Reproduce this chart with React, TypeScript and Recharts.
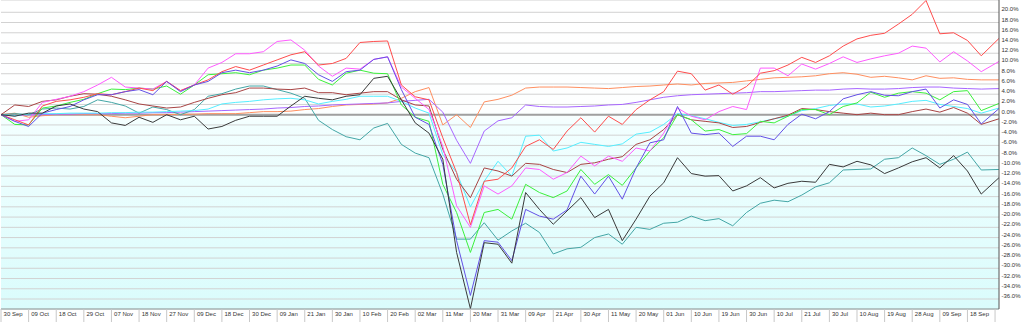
import React from 'react';
import { LineChart, Line, XAxis, YAxis, CartesianGrid, ReferenceLine } from 'recharts';

// x labels, one every 7 trading days
const DATE_LABELS = [
  '30 Sep', '09 Oct', '18 Oct', '29 Oct', '07 Nov', '18 Nov', '27 Nov', '09 Dec', '18 Dec',
  '30 Dec', '09 Jan', '21 Jan', '30 Jan', '10 Feb', '20 Feb', '02 Mar', '11 Mar', '20 Mar',
  '31 Mar', '09 Apr', '21 Apr', '30 Apr', '11 May', '20 May', '01 Jun', '10 Jun', '19 Jun',
  '30 Jun', '10 Jul', '21 Jul', '30 Jul', '10 Aug', '19 Aug', '28 Aug', '09 Sep', '18 Sep',
];
const DAYS_PER_LABEL = 7;
const LAST_DAY = 253;

// sample points every 3.5 trading days, last one at the series end
const SAMPLE_COUNT = 73;

const RED = [
  0, -1.0, -2.0, 1.7, 2.6, 2.9, 3.4, 4.1, 3.9, 4.5,
  5.2, 4.7, 6.5, 4.7, 5.8, 6.8, 8.4, 9.4, 8.7, 9.7,
  10.7, 11.7, 12.3, 9.7, 10.0, 11.0, 14.1, 14.3, 14.4, 5.8,
  3.5, 2.9, -4.5, -11.3, -21.5, -13.0, -12.6, -10.4, -6.2, -4.9,
  -6.8, -3.2, -0.6, -3.4, -0.3, -1.9, 1.0, 2.9, 4.5, 8.5,
  8.0, 4.8, 5.8, 4.0, 5.5, 8.1, 8.6, 9.7, 11.2, 10.2,
  11.5, 13.4, 14.8, 15.5, 15.9, 17.7, 19.6, 22.3, 15.8, 16.0,
  14.5, 11.5, 14.9,
];
const MAGENTA = [
  0, -1.3, -1.0, 2.4, 3.0, 3.6, 4.5, 5.8, 7.3, 5.4,
  5.2, 5.0, 6.5, 4.7, 5.8, 9.1, 10.2, 11.9, 11.9, 12.3,
  14.3, 14.6, 12.6, 9.5, 7.5, 9.1, 8.9, 10.8, 11.3, 5.4,
  3.2, 1.0, -6.2, -17.8, -22.0, -13.9, -15.5, -13.9, -10.4, -10.7,
  -12.6, -11.3, -8.1, -10.0, -8.1, -9.1, -6.5, -7.1, -3.6, 1.3,
  -0.3, -1.0, 0.6, 1.6, 1.0, 9.1, 9.1, 7.6, 9.9, 8.9,
  10.0, 11.3, 10.2, 10.9, 11.5, 12.0, 13.4, 13.0, 10.3, 12.3,
  10.5, 8.4, 10.4,
];
const ORANGE = [
  0, 0.3, -0.5, -0.2, 0, 0, 0, 0, -0.3, -0.6,
  -0.3, 0, 0, 0.1, 0.1, 0.2, 0.2, 0.2, 0.4, 0.6,
  0.6, 0.7, 1.0, 1.2, 1.6, 1.9, 2.0, 2.1, 2.3, 3.2,
  4.5, 5.3, -2.0, 0.0, -2.5, 2.5, 3.0, 3.8, 5.2, 5.4,
  5.4, 5.4, 5.3, 5.2, 5.1, 5.3, 5.5, 5.6, 5.8, 6.0,
  5.8, 6.1, 6.2, 6.3, 6.6, 6.9, 7.2, 7.3, 7.4, 7.6,
  8.0, 8.2, 7.9, 7.3, 7.5, 7.2, 6.8, 7.6, 7.1, 7.2,
  6.9, 6.8, 6.8,
];
const PURPLE = [
  0, -0.2, 0, 0, 0.1, 0.1, 0.2, 0.2, 0.2, 0.3,
  0.3, 0.4, 0.4, 0.5, 0.6, 0.7, 0.8, 0.9, 1.0, 1.1,
  1.3, 1.4, 1.6, 1.7, 1.9, 2.0, 2.1, 2.2, 2.3, 2.6,
  2.8, 3.0, 0.5, -5.0, -9.5, -3.2, -1.2, -0.6, 1.9, 1.6,
  1.5, 1.5, 1.6, 1.7, 1.9, 2.0, 2.4, 2.9, 3.4, 3.7,
  3.9, 4.0, 4.1, 4.2, 4.3, 4.5, 4.5, 4.6, 4.7, 4.8,
  4.8, 5.0, 5.1, 5.0, 5.0, 5.1, 5.3, 5.4, 5.4, 5.2,
  5.1, 5.0, 5.1,
];
const GREEN = [
  0, -1.9, -2.0, 1.3, 1.7, 2.4, 3.0, 4.1, 5.0, 4.9,
  5.2, 5.0, 5.6, 4.0, 5.8, 7.8, 8.0, 8.2, 7.8, 8.7,
  9.1, 9.7, 9.7, 6.9, 5.8, 8.1, 8.7, 8.1, 8.0, 1.9,
  -0.5, -1.3, -13.6, -19.1, -26.9, -19.1, -18.5, -20.4, -13.6, -15.2,
  -16.2, -14.9, -10.7, -13.6, -11.7, -13.8, -10.4, -7.1, -4.5, 0,
  -1.0, -3.2, -2.9, -3.9, -3.7, -1.3, -1.6, -0.3, 1.0, 1.0,
  0, 1.6, 2.3, 4.4, 3.4, 4.2, 4.5, 4.2, 2.9, 4.5,
  4.7, 0.8, 2.2,
];
const CYAN = [
  0, -0.2, 0.2, 0.2, 0.2, 0.3, 0.3, 0.3, 0.4, 0.4,
  0.5, 0.5, 0.6, 0.7, 0.8, 1.1, 2.1, 2.4, 2.6, 2.9,
  3.1, 3.2, 2.9, 2.1, 2.6, 3.0, 3.6, 3.6, 3.6, 2.6,
  1.3, 0.3, -7.8, -11.3, -18.0, -13.0, -9.1, -12.0, -4.2, -4.0,
  -7.1, -6.5, -5.4, -5.8, -6.2, -5.7, -3.8, -3.4, -1.9, 0.2,
  -0.2, -0.8, -1.5, -2.1, -1.9, -1.4, -0.8, -0.3, 0.8, 1.2,
  1.8, 2.1, 2.1, 1.5, 1.7, 2.1, 2.6, 2.8, 2.0, 1.6,
  1.2, 0.3, 1.3,
];
const BLUE = [
  0, -1.3, -2.3, 0.3, 1.0, 1.6, 2.9, 3.9, 3.9, 4.5,
  4.9, 3.9, 6.5, 4.5, 5.8, 6.5, 8.2, 8.7, 8.2, 8.7,
  9.5, 10.7, 10.0, 7.8, 6.5, 8.4, 8.7, 10.8, 11.3, 4.9,
  -0.5, -1.9, -9.7, -24.6, -35.3, -24.6, -24.9, -28.5, -18.5, -19.8,
  -20.4, -18.6, -12.0, -15.5, -12.0, -16.5, -10.4, -5.5, -4.9, 1.6,
  -3.6, -3.9, -3.6, -6.2, -4.2, -4.2, -4.9, -1.9, 0.1, -0.8,
  0.6, 3.1, 3.9, 4.5, 3.8, 3.7, 4.5, 5.0, 1.3, 2.9,
  2.0, -1.8, 1.2,
];
const BROWN = [
  0, 1.9, 1.6, 2.6, 2.9, 3.6, 4.1, 4.0, 3.6, 2.9,
  2.1, 1.7, 1.3, 1.5, 2.4, 3.2, 3.9, 4.3, 5.2, 5.2,
  5.0, 4.9, 5.2, 4.3, 4.3, 3.9, 4.2, 4.5, 4.5, 2.9,
  1.9, 1.7, -6.8, -12.6, -16.2, -10.4, -11.0, -12.0, -9.5, -9.7,
  -10.7, -11.3, -9.7, -9.4, -8.7, -8.2, -5.8, -4.9, -2.9, 0,
  -1.0, -1.3, -1.6, -2.5, -2.3, -1.5, -0.8, -0.1, 1.2, 1.0,
  0.6, 0.3, 0, 0.3, 0, 0, 0.6, 1.1, 0.5, 1.4,
  0.3, -1.9, -0.8,
];
const BLACK = [
  0, -0.3, 0.3, 0.3, 1.7, 2.1, 1.1, 0.6, -1.6, -2.1,
  -0.5, -1.5, 0, -1.0, -0.3, -2.8, -2.3, -1.1, -0.3, -0.3,
  -0.3, 1.7, 3.6, 3.2, 2.9, 3.6, 3.9, 7.1, 7.5, 2.9,
  -1.6, -3.6, -8.7, -26.9, -37.9, -25.0, -25.3, -29.0, -15.2, -18.5,
  -21.4, -18.8, -16.2, -20.1, -18.5, -24.6, -20.4, -15.9, -13.3, -8.4,
  -11.5, -12.0, -11.9, -14.9, -13.9, -12.3, -14.3, -13.4, -13.0, -13.2,
  -9.7, -10.2, -9.1, -9.8, -11.5, -10.4, -9.2, -8.4, -10.4, -8.0,
  -11.0, -15.5, -12.3,
];
const TEAL = [
  0, 0.2, 0, 1.1, 1.3, 1.1, 1.6, 2.9, 2.4, 1.7,
  0.3, 1.5, 1.0, 0, 1.0, 3.6, 4.1, 5.0, 5.6, 5.6,
  4.9, 4.2, 3.2, -1.1, -2.9, -4.3, -4.9, -2.6, -1.7, -5.8,
  -7.5, -8.4, -15.5, -24.3, -24.3, -21.1, -24.5, -22.7, -21.2, -23.0,
  -27.2, -26.2, -25.9, -24.0, -23.3, -25.3, -22.0, -22.4, -21.2, -21.0,
  -19.8, -20.7, -20.3, -21.7, -19.1, -17.3, -16.7, -17.0, -15.7, -14.1,
  -13.3, -10.8, -10.7, -10.6, -8.7, -8.4, -6.5, -8.0, -9.7, -8.7,
  -7.3, -10.8, -10.7,
];

const Y_TICKS = [
  -36, -34, -32, -30, -28, -26, -24, -22, -20, -18, -16, -14, -12, -10, -8, -6, -4, -2,
  0, 2, 4, 6, 8, 10, 12, 14, 16, 18, 20,
];
const Y_DOMAIN: [number, number] = [-37.95, 22.4];

const SERIES = [
  { key: 'orange', values: ORANGE, color: '#ff8f60' },
  { key: 'purple', values: PURPLE, color: '#a866ff' },
  { key: 'teal', values: TEAL, color: '#44a6a6' },
  { key: 'cyan', values: CYAN, color: '#55eeff' },
  { key: 'brown', values: BROWN, color: '#a84444' },
  { key: 'green', values: GREEN, color: '#3cf03c' },
  { key: 'magenta', values: MAGENTA, color: '#ff5cff' },
  { key: 'red', values: RED, color: '#ff4d4d' },
  { key: 'blue', values: BLUE, color: '#6450e6' },
  { key: 'black', values: BLACK, color: '#3a3a3a' },
];

const DAYS = Array.from({ length: SAMPLE_COUNT }, (_, i) =>
  i === SAMPLE_COUNT - 1 ? LAST_DAY : i * 3.5
);

const DATA = DAYS.map((day, i) => {
  const row: Record<string, number> = { day };
  SERIES.forEach((s) => {
    row[s.key] = s.values[i];
  });
  return row;
});

const X_TICKS = [...DATE_LABELS.map((_, i) => i * DAYS_PER_LABEL), DATE_LABELS.length * DAYS_PER_LABEL];

const FONT = '"Liberation Sans", Arial, Helvetica, sans-serif';

const XTick = (props: any) => {
  const { x, y, payload } = props;
  const idx = Math.round(payload.value / DAYS_PER_LABEL);
  const label = DATE_LABELS[idx] ?? '';
  return (
    <g>
      <line x1={x} y1={y} x2={x} y2={y + 13} stroke="#c8c8c8" strokeWidth={1} />
      <text x={x + 2.6} y={y + 7.4} fontSize={6} fontFamily={FONT} fill="#333" textAnchor="start">
        {label}
      </text>
    </g>
  );
};

const YTick = (props: any) => {
  const { x, y, payload } = props;
  return (
    <text x={x + 2.5} y={y - 1} fontSize={6} fontFamily={FONT} fill="#333" textAnchor="start">
      {`${Number(payload.value).toFixed(1)}%`}
    </text>
  );
};

export default function App() {
  return (
    <div style={{ position: 'absolute', left: 0, top: 0, width: 1022, height: 322, background: '#fff' }}>
      <LineChart width={1022} height={322} data={DATA} margin={{ top: 0, right: 0, bottom: 0, left: 1 }}>
        <defs>
          <linearGradient id="bgGrad" x1="0" y1="0" x2="0" y2="1">
            <stop offset="0%" stopColor="#ffffff" />
            <stop offset="36%" stopColor="#fdffff" />
            <stop offset="40%" stopColor="#f2ffff" />
            <stop offset="100%" stopColor="#dafcfc" />
          </linearGradient>
        </defs>
        <CartesianGrid
          vertical={false}
          stroke="#d2d2d2"
          strokeWidth={1}
          fill="url(#bgGrad)"
          fillOpacity={1}
        />
        <XAxis
          dataKey="day"
          type="number"
          domain={[0, LAST_DAY]}
          ticks={X_TICKS}
          interval={0}
          allowDataOverflow
          height={13}
          tickSize={0}
          tickMargin={0}
          tickLine={false}
          axisLine={{ stroke: '#8fa0a0' }}
          tick={<XTick />}
        />
        <YAxis
          orientation="right"
          type="number"
          domain={Y_DOMAIN}
          ticks={Y_TICKS}
          interval={0}
          allowDataOverflow
          width={23}
          tickSize={0}
          tickMargin={0}
          tickLine={false}
          axisLine={{ stroke: '#555' }}
          tick={<YTick />}
        />
        <ReferenceLine y={0} stroke="#a0a0a0" strokeWidth={2} />
        {SERIES.map((s) => (
          <Line
            key={s.key}
            dataKey={s.key}
            type="linear"
            stroke={s.color}
            strokeWidth={1}
            dot={false}
            activeDot={false}
            isAnimationActive={false}
          />
        ))}
      </LineChart>
    </div>
  );
}
